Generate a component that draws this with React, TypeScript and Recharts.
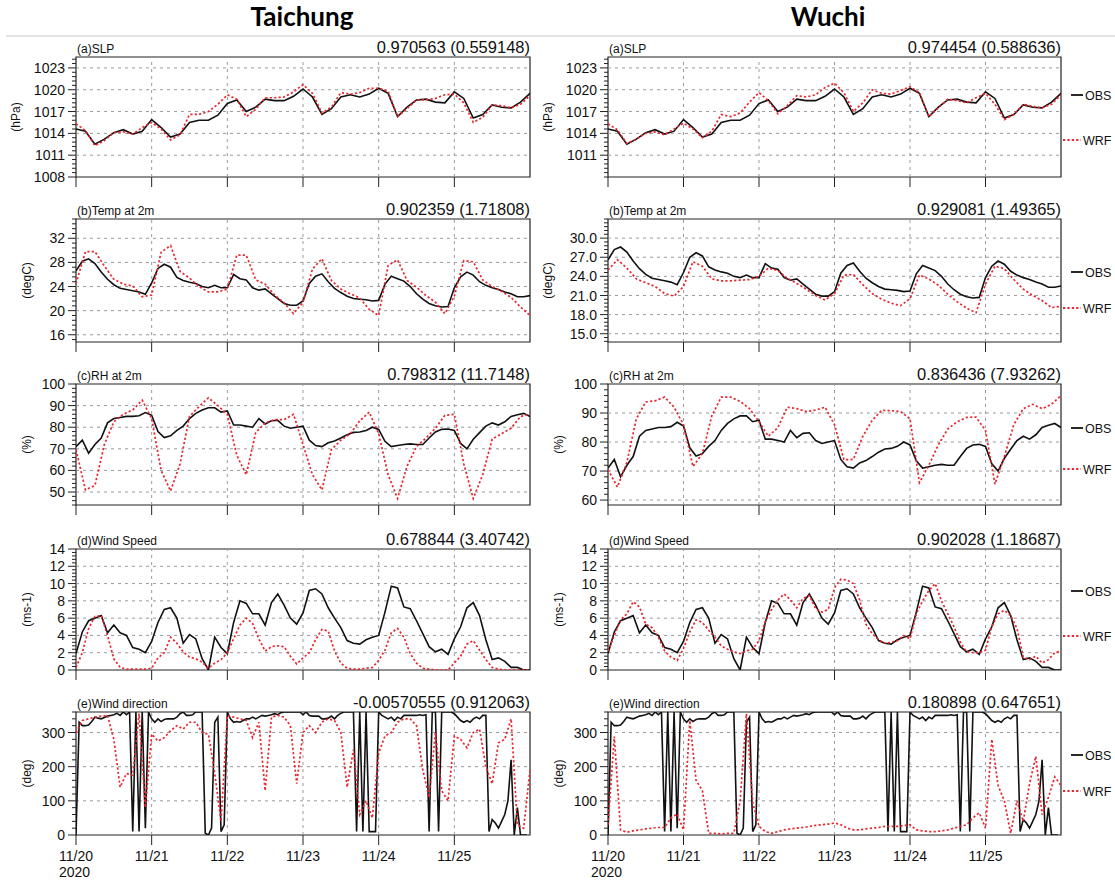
import React from 'react';
import { LineChart, Line, XAxis, YAxis, ReferenceLine, ReferenceArea } from 'recharts';

// hourly axis: 0 = 11/20 00h, 144 = 11/26 00h
const DAY_TICKS = [0, 24, 48, 72, 96, 120];
const DAY_LABELS = ['11/20', '11/21', '11/22', '11/23', '11/24', '11/25'];
const STATIONS = ['Taichung', 'Wuchi'];
const TITLES = ['(a)SLP', '(b)Temp at 2m', '(c)RH at 2m', '(d)Wind Speed', '(e)Wind direction'];
const UNITS = ['(hPa)', '(degC)', '(%)', '(ms-1)', '(deg)'];
const STATS_TC = ['0.970563 (0.559148)', '0.902359 (1.71808)', '0.798312 (11.7148)', '0.678844 (3.40742)', '-0.00570555 (0.912063)'];
const STATS_WC = ['0.974454 (0.588636)', '0.929081 (1.49365)', '0.836436 (7.93262)', '0.902028 (1.18687)', '0.180898 (0.647651)'];

// sea level pressure, 3-hourly
const SLP_OBS = [
  1014.6, 1014.3, 1012.5, 1013.2, 1014.1, 1014.5, 1013.9, 1014.3, 1015.9, 1014.8,
  1013.5, 1013.9, 1015.5, 1015.8, 1015.8, 1016.5, 1018.1, 1018.6, 1017.0, 1017.6,
  1018.7, 1018.5, 1018.5, 1019.1, 1020.1, 1019.0, 1016.6, 1017.4, 1019.0, 1019.3,
  1019.0, 1019.4, 1020.2, 1019.5, 1016.3, 1017.6, 1018.6, 1018.7, 1018.3, 1018.2,
  1019.7, 1018.8, 1016.1, 1016.6, 1017.9, 1017.6, 1017.5, 1018.3, 1019.5,
];
const SLP_WRF_TC = [
  1015.3, 1014.4, 1012.3, 1013.0, 1014.1, 1014.2, 1013.9, 1014.8, 1015.5, 1014.6,
  1013.1, 1013.8, 1016.6, 1016.6, 1017.0, 1018.0, 1019.3, 1018.7, 1016.3, 1017.3,
  1018.9, 1018.9, 1019.0, 1019.7, 1020.7, 1019.5, 1016.8, 1017.6, 1019.6, 1019.4,
  1019.6, 1020.2, 1020.2, 1019.8, 1016.3, 1017.4, 1018.6, 1018.6, 1018.8, 1019.3,
  1019.4, 1018.2, 1015.5, 1016.2, 1017.9, 1017.8, 1017.5, 1018.0, 1019.2,
];
const SLP_WRF_WC = [
  1015.3, 1014.5, 1012.6, 1013.2, 1014.0, 1014.2, 1013.8, 1014.6, 1015.4, 1014.6,
  1013.4, 1014.3, 1016.6, 1016.3, 1016.8, 1018.3, 1019.6, 1018.5, 1016.7, 1017.8,
  1019.2, 1019.0, 1019.3, 1020.3, 1020.9, 1019.6, 1017.0, 1018.2, 1020.0, 1019.5,
  1019.4, 1019.9, 1020.4, 1019.6, 1016.3, 1017.5, 1018.7, 1018.5, 1018.2, 1018.9,
  1019.5, 1018.0, 1015.9, 1016.6, 1018.0, 1017.7, 1017.5, 1018.0, 1019.3,
];

// 2m temperature: obs 2-hourly, wrf 3-hourly
const T_OBS = [
  26.6, 28.2, 28.6, 27.8, 26.4, 25.2, 24.3, 23.7, 23.5, 23.3,
  23.1, 22.7, 24.6, 27.0, 27.7, 27.2, 25.5, 25.0, 24.7, 24.5,
  24.0, 23.8, 24.2, 23.8, 23.8, 26.0, 25.3, 25.1, 23.8, 23.4,
  23.6, 22.8, 22.0, 21.2, 20.9, 20.9, 21.6, 24.5, 25.7, 26.1,
  24.8, 23.7, 23.0, 22.4, 22.0, 21.9, 21.8, 21.6, 21.7, 24.4,
  25.7, 25.3, 24.9, 24.0, 22.8, 21.9, 21.2, 20.8, 20.6, 20.7,
  23.8, 25.6, 26.4, 25.9, 24.8, 24.2, 23.8, 23.5, 23.1, 22.8,
  22.3, 22.3, 22.5,
];
const T_WRF_TC = [
  24.5, 29.8, 29.8, 27.4, 25.2, 24.4, 24.1, 22.3, 22.6, 29.7,
  30.8, 26.5, 25.4, 24.0, 23.1, 23.1, 23.6, 29.2, 29.2, 25.1,
  24.4, 22.6, 21.3, 19.5, 21.4, 26.9, 28.6, 25.0, 23.6, 22.8,
  22.1, 20.2, 19.2, 27.5, 28.4, 25.0, 23.9, 22.5, 21.4, 19.5,
  22.4, 28.3, 28.1, 25.1, 24.0, 23.2, 22.2, 20.6, 19.2,
];
const T_WRF_WC = [
  25.0, 26.6, 25.3, 23.6, 23.0, 22.4, 21.3, 20.9, 22.4, 26.3,
  25.6, 23.6, 23.3, 23.3, 23.4, 23.5, 24.0, 25.3, 24.9, 23.7,
  22.9, 22.0, 21.0, 20.3, 21.3, 24.2, 24.3, 22.7, 21.3, 20.4,
  19.8, 19.4, 20.5, 24.2, 23.6, 22.6, 21.2, 20.0, 19.0, 18.3,
  22.8, 25.6, 25.2, 23.5, 22.0, 21.0, 20.2, 19.1, 19.3,
];

// relative humidity: obs 2-hourly, wrf 3-hourly
const RH_OBS = [
  71, 74, 68, 72, 75, 82, 84, 84.5, 85, 85,
  85.3, 86.8, 85.5, 78, 75.2, 76, 78.5, 80.5, 84, 86.4,
  88, 89, 89, 87, 87.5, 81, 81, 80.5, 80, 84,
  81.5, 83, 83.2, 80.5, 79.5, 80, 80.5, 74, 71.5, 71,
  72.8, 73.6, 75, 76.5, 77.6, 77.8, 78.5, 80, 79, 73.5,
  71, 71.5, 72, 72.3, 72, 72, 75, 77.8, 79, 79.2,
  78.5, 72.5, 70, 74.4, 77.5, 80.5, 82, 81, 82.5, 85,
  85.8, 86.4, 85,
];
const RH_WRF_TC = [
  69.6, 51, 53, 72, 82.5, 86, 88, 92.5, 84, 60,
  50.5, 63, 85, 89.5, 93.6, 90, 86, 67, 58, 77.5,
  82, 83.5, 83.5, 86, 72, 58, 51, 69.6, 74, 77,
  83, 87, 77, 58, 47, 62, 71, 75, 79.5, 85.5,
  86, 63, 47, 58, 74.5, 77, 79.5, 85, 86,
];
const RH_WRF_WC = [
  70.5, 64.5, 73, 88, 93.8, 94.2, 95.5, 92, 86, 71.6,
  76, 89, 95.5, 95.5, 94, 91.5, 87, 82, 85, 92,
  91.5, 90.5, 91, 92, 86, 73.9, 74, 82, 87.5, 90.9,
  90.8, 90.5, 88, 66, 72, 79, 84.5, 87, 88.5, 88.6,
  84, 65.5, 75, 86, 91.5, 93, 91.5, 93, 96,
];

// wind speed, 2-hourly
const WS_OBS = [
  1.9, 4.4, 5.7, 6.0, 6.3, 4.3, 5.2, 4.3, 4.0, 2.6,
  2.4, 2.0, 3.3, 5.5, 7.0, 7.2, 6.0, 3.1, 4.1, 3.6,
  1.3, 0, 3.8, 2.6, 1.9, 5.5, 8.0, 7.7, 6.5, 6.5,
  5.2, 7.8, 8.8, 7.5, 6.0, 5.3, 6.6, 9.2, 9.4, 8.8,
  7.2, 6.0, 4.9, 3.4, 3.1, 3.0, 3.5, 3.8, 4.0, 6.7,
  9.7, 9.5, 7.3, 7.1, 5.7, 4.2, 2.7, 2.1, 2.4, 1.8,
  3.6, 5.0, 7.2, 7.8, 6.3, 3.5, 1.2, 1.4, 1.0, 0.3,
  0.3, 0, 0,
];
const WS_WRF_TC = [
  0.3, 2.0, 4.8, 6.2, 6.3, 4.0, 1.3, 0.3, 0.1, 0.1,
  0.1, 0.1, 0.2, 1.4, 2.0, 3.8, 3.1, 2.1, 1.5, 1.3,
  0.9, 0.2, 0.8, 1.2, 2.0, 3.6, 5.2, 6.0, 5.4, 3.6,
  2.2, 2.7, 2.8, 2.7, 1.6, 0.7, 1.4, 2.0, 3.5, 4.7,
  4.5, 2.2, 0.8, 0.2, 0.1, 0.1, 0.2, 0.3, 1.1, 2.3,
  4.3, 4.8, 3.8, 1.9, 0.8, 0.2, 0.1, 0, 0, 0,
  0.8, 1.6, 3.0, 3.4, 2.3, 1.2, 0.3, 0.1, 0, 0,
  0, 0, 0,
];
const WS_WRF_WC = [
  2.2, 4.0, 5.8, 6.5, 7.9, 7.3, 5.3, 4.9, 3.8, 2.2,
  1.5, 1.1, 2.5, 4.4, 5.8, 5.5, 4.6, 3.8, 2.8, 2.4,
  2.1, 1.9, 2.2, 2.4, 3.4, 5.6, 7.0, 8.1, 8.8, 8.1,
  7.2, 8.3, 8.6, 7.1, 6.7, 7.0, 9.5, 10.5, 10.4, 10.0,
  8.1, 5.3, 4.2, 3.5, 3.1, 3.2, 3.4, 4.0, 3.6, 6.5,
  8.0, 9.2, 10.0, 8.0, 6.5, 5.0, 3.2, 2.1, 2.0, 2.0,
  2.3, 5.0, 6.5, 6.9, 6.3, 4.8, 1.5, 1.2, 1.6, 0.8,
  1.2, 2.0, 2.2,
];

// wind direction: obs hourly, wrf 2-hourly
const WD_OBS = [
  0, 330, 320, 320, 322, 332, 345, 342, 340, 344, 348, 350,
  352, 356, 350, 360, 352, 360, 10, 360, 10, 360, 20, 360,
  340, 330, 340, 332, 338, 340, 340, 340, 345, 355, 360, 350,
  350, 352, 360, 360, 360, 5, 0, 20, 330, 345, 10, 30,
  360, 340, 330, 332, 330, 335, 340, 340, 345, 340, 345, 350,
  348, 350, 352, 355, 352, 358, 360, 360, 360, 360, 360, 360,
  352, 360, 350, 348, 348, 348, 340, 340, 342, 348, 340, 350,
  356, 360, 360, 360, 360, 10, 360, 10, 360, 10, 10, 10,
  360, 350, 345, 340, 345, 335, 345, 340, 350, 350, 350, 350,
  350, 352, 350, 352, 10, 360, 360, 10, 360, 360, 360, 360,
  355, 345, 335, 330, 335, 330, 340, 345, 340, 350, 350, 10,
  45, 35, 20, 40, 60, 100, 220, 0, 80, 0, 0, 0,
];
const WD_WRF_TC = [
  300, 335, 340, 345, 348, 350, 280, 140, 180, 175,
  355, 80, 295, 275, 285, 305, 320, 310, 330, 330,
  300, 295, 180, 40, 350, 345, 340, 335, 285, 330,
  130, 345, 350, 345, 320, 150, 300, 320, 300, 330,
  340, 335, 300, 140, 250, 60, 100, 50, 240, 290,
  300, 330, 340, 340, 320, 190, 110, 300, 130, 100,
  290, 280, 255, 300, 310, 200, 150, 270, 280, 340,
  30, 20, 190,
];
const WD_WRF_WC = [
  30, 288, 15, 8, 12, 15, 18, 20, 22, 22,
  50, 62, 15, 335, 160, 130, 5, 5, 3, 5,
  5, 100, 355, 95, 25, 10, 5, 10, 15, 18,
  20, 22, 25, 28, 30, 32, 35, 30, 20, 15,
  15, 18, 20, 22, 25, 25, 25, 28, 30, 15,
  12, 10, 10, 12, 15, 20, 25, 30, 50, 65,
  20, 280, 145, 100, 5, 100, 40, 150, 230, 60,
  110, 170, 145,
];

type Pt = { h: number; v: number };
const mk = (vals: number[], step: number): Pt[] => vals.map((v, i) => ({ h: i * step, v }));

const OBS_SERIES = [mk(SLP_OBS, 3), mk(T_OBS, 2), mk(RH_OBS, 2), mk(WS_OBS, 2), mk(WD_OBS, 1)];
const WRF_SERIES = [
  [mk(SLP_WRF_TC, 3), mk(T_WRF_TC, 3), mk(RH_WRF_TC, 3), mk(WS_WRF_TC, 2), mk(WD_WRF_TC, 2)],
  [mk(SLP_WRF_WC, 3), mk(T_WRF_WC, 3), mk(RH_WRF_WC, 3), mk(WS_WRF_WC, 2), mk(WD_WRF_WC, 2)],
];

// axis setup per [column][row]
interface AxisSpec { lo: number; hi: number; majors: number[]; minor: number; dec: number }
const AXES: AxisSpec[][] = [
  [
    { lo: 1008, hi: 1024.5, majors: [1008, 1011, 1014, 1017, 1020, 1023], minor: 0.6, dec: 0 },
    { lo: 14.8, hi: 35.2, majors: [16, 20, 24, 28, 32], minor: 0.8, dec: 0 },
    { lo: 44, hi: 100, majors: [50, 60, 70, 80, 90, 100], minor: 2, dec: 0 },
    { lo: 0, hi: 14, majors: [0, 2, 4, 6, 8, 10, 12, 14], minor: 0.4, dec: 0 },
    { lo: 0, hi: 360, majors: [0, 100, 200, 300], minor: 20, dec: 0 },
  ],
  [
    { lo: 1008, hi: 1024.5, majors: [1011, 1014, 1017, 1020, 1023], minor: 0.6, dec: 0 },
    { lo: 13.7, hi: 33, majors: [15, 18, 21, 24, 27, 30], minor: 0.6, dec: 1 },
    { lo: 58.3, hi: 100, majors: [60, 70, 80, 90, 100], minor: 2, dec: 0 },
    { lo: 0, hi: 14, majors: [0, 2, 4, 6, 8, 10, 12, 14], minor: 0.4, dec: 0 },
    { lo: 0, hi: 360, majors: [0, 100, 200, 300], minor: 20, dec: 0 },
  ],
];

// layout (px)
const COLS = [{ left: 76, width: 454 }, { left: 608, width: 453 }];
const ROWS = [
  { top: 57, height: 120 },
  { top: 219, height: 123 },
  { top: 384, height: 121 },
  { top: 549, height: 121 },
  { top: 712, height: 123 },
];
const YLAB_X = [[17, 28, 28, 28, 28], [549, 549, 560, 560, 560]];
const LEG_Y = [[95, 140], [272, 308], [428, 469], [591, 636], [755, 791]];
const YW = 72;
const MT = 12;
const MR = 6;
const FONT = "'Liberation Sans', Arial, Helvetica, sans-serif";
const OBS_COLOR = '#111111';
const WRF_COLOR = '#e8262d';
const GRID = '#9a9a9a';

function axisTicks(a: AxisSpec): number[] {
  const out: number[] = [];
  const start = a.majors[0] - Math.floor((a.majors[0] - a.lo) / a.minor + 1e-6) * a.minor;
  for (let v = start; v <= a.hi + 1e-6; v += a.minor) out.push(+v.toFixed(4));
  return out;
}

const YTick = ({ x, y, payload, axis }: any) => {
  const v = payload.value;
  const major = axis.majors.some((m: number) => Math.abs(m - v) < 1e-4);
  return (
    <g>
      <line x1={x - (major ? 8 : 4)} x2={x} y1={y} y2={y} stroke="#222" strokeWidth={1} />
      {major && (
        <text x={x - 11} y={y} dy="0.36em" textAnchor="end" fontSize={14} fontFamily={FONT} fill="#111">
          {v.toFixed(axis.dec)}
        </text>
      )}
    </g>
  );
};

const DateTick = ({ x, y, payload }: any) => {
  const i = DAY_TICKS.indexOf(payload.value);
  return (
    <g>
      <text x={x} y={y + 14} textAnchor="middle" fontSize={14} fontFamily={FONT} fill="#111">
        {DAY_LABELS[i]}
      </text>
      {i === 0 && (
        <text x={x - 17} y={y + 30} textAnchor="start" fontSize={14} fontFamily={FONT} fill="#111">
          2020
        </text>
      )}
    </g>
  );
};

function Panel({ c, r }: { c: number; r: number }) {
  const col = COLS[c];
  const row = ROWS[r];
  const axis = AXES[c][r];
  const bottom = r === ROWS.length - 1;
  const XH = bottom ? 46 : 14;
  const w = YW + col.width + MR;
  const h = MT + row.height + XH;
  const innerMajors = axis.majors.filter((m) => m > axis.lo + 1e-6 && m < axis.hi - 1e-6);
  return (
    <div style={{ position: 'absolute', left: col.left - YW, top: row.top - MT, width: w, height: h }}>
      <LineChart width={w} height={h} margin={{ top: MT, right: MR, bottom: 0, left: 0 }}>
        <XAxis
          dataKey="h"
          type="number"
          domain={[0, 144]}
          ticks={DAY_TICKS}
          interval={0}
          allowDataOverflow
          axisLine={false}
          tickLine={{ stroke: '#222', strokeWidth: 1 }}
          tickSize={10}
          tickMargin={2}
          height={XH}
          tick={bottom ? (p: any) => <DateTick {...p} /> : () => <g />}
        />
        <YAxis
          type="number"
          domain={[axis.lo, axis.hi]}
          ticks={axisTicks(axis)}
          interval={0}
          allowDataOverflow
          axisLine={false}
          tickLine={false}
          tickSize={0}
          tickMargin={0}
          width={YW}
          tick={(p: any) => <YTick {...p} axis={axis} />}
        />
        {innerMajors.map((m) => (
          <ReferenceLine key={'y' + m} y={m} stroke={GRID} strokeDasharray="3 4" strokeWidth={1} />
        ))}
        {DAY_TICKS.slice(1).map((d) => (
          <ReferenceLine key={'x' + d} x={d} stroke={GRID} strokeDasharray="3 4" strokeWidth={1} />
        ))}
        <Line
          data={OBS_SERIES[r]}
          dataKey="v"
          type="linear"
          stroke={OBS_COLOR}
          strokeWidth={1.6}
          dot={false}
          isAnimationActive={false}
        />
        <Line
          data={WRF_SERIES[c][r]}
          dataKey="v"
          type="linear"
          stroke={WRF_COLOR}
          strokeWidth={1.7}
          strokeDasharray="2.2 2.2"
          dot={false}
          isAnimationActive={false}
        />
        <ReferenceArea
          x1={0}
          x2={144}
          y1={axis.lo}
          y2={axis.hi}
          fill="none"
          stroke="#222"
          strokeWidth={1.2}
          ifOverflow="visible"
        />
      </LineChart>
    </div>
  );
}

function Overlay() {
  return (
    <svg width={1115} height={881} style={{ position: 'absolute', left: 0, top: 0, pointerEvents: 'none' }}>
      <text x={302} y={26} textAnchor="middle" fontFamily="Lato, 'Open Sans', sans-serif" fontWeight={700} fontSize={26} fill="#000">
        {STATIONS[0]}
      </text>
      <text x={828} y={26} textAnchor="middle" fontFamily="Lato, 'Open Sans', sans-serif" fontWeight={700} fontSize={26} fill="#000">
        {STATIONS[1]}
      </text>
      <line x1={6} x2={1115} y1={36} y2={36} stroke="#d9d9d9" strokeWidth={1.5} />
      {COLS.map((col, c) =>
        ROWS.map((row, r) => {
          const stats = c === 0 ? STATS_TC : STATS_WC;
          const yl = YLAB_X[c][r];
          const ym = row.top + row.height / 2;
          return (
            <g key={`${c}-${r}`}>
              <text x={col.left + 1} y={row.top - 4} fontSize={12} fontFamily={FONT} fill="#111">
                {TITLES[r]}
              </text>
              <text x={col.left + col.width} y={row.top - 4} textAnchor="end" fontSize={16.5} fontFamily={FONT} fill="#111">
                {stats[r]}
              </text>
              <text
                x={yl}
                y={ym}
                transform={`rotate(-90 ${yl} ${ym})`}
                textAnchor="middle"
                dominantBaseline="middle"
                fontSize={12}
                fontFamily={FONT}
                fill="#111"
              >
                {UNITS[r]}
              </text>
            </g>
          );
        })
      )}
      {LEG_Y.map(([yo, yw], r) => (
        <g key={'leg' + r}>
          <line x1={1071} x2={1083} y1={yo} y2={yo} stroke={OBS_COLOR} strokeWidth={1.8} />
          <text x={1085} y={yo} dy="0.36em" fontSize={12.5} fontFamily={FONT} fill="#111">OBS</text>
          <line x1={1063} x2={1081} y1={yw} y2={yw} stroke={WRF_COLOR} strokeWidth={1.8} strokeDasharray="2.2 2.2" />
          <text x={1083} y={yw} dy="0.36em" fontSize={12.5} fontFamily={FONT} fill="#111">WRF</text>
        </g>
      ))}
    </svg>
  );
}

export default function App() {
  return (
    <div style={{ position: 'absolute', left: 0, top: 0, width: 1115, height: 881, background: '#fff', overflow: 'hidden' }}>
      {COLS.map((_, c) => ROWS.map((__, r) => <Panel key={`${c}-${r}`} c={c} r={r} />))}
      <Overlay />
    </div>
  );
}
